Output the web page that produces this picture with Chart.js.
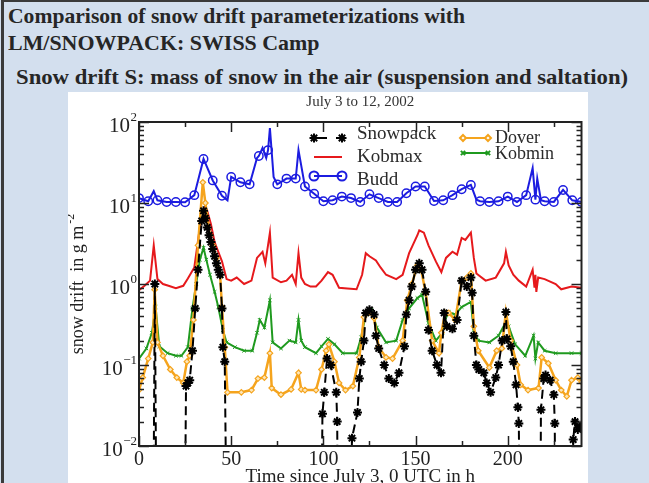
<!DOCTYPE html>
<html>
<head>
<meta charset="utf-8">
<script src="https://cdn.jsdelivr.net/npm/chart.js@4.4.1/dist/chart.umd.min.js"></script>
<style>
  html, body { margin: 0; padding: 0; }
  body { width: 649px; height: 483px; overflow: hidden; position: relative;
         background: #d3dfee; font-family: "Liberation Serif", "Times New Roman", serif; }
  #frame { position: absolute; left: 1px; top: 0; width: 700px; height: 600px;
           border-left: 3px solid #3a3a3a; border-top: 2px solid #3a3a3a; }
  .h { position: absolute; font-family: "Liberation Serif", "Times New Roman", serif; font-weight: bold;
       font-size: 22px; color: #262626; white-space: nowrap; line-height: 1; transform-origin: 0 0; }
  #panel { position: absolute; left: 68px; top: 92px; width: 520px; height: 391px; background: #fff; }
  canvas { display: block; }
</style>
</head>
<body>
<div id="frame"></div>
<div class="h" id="h1" style="left:8px; top:5px">Comparison of snow drift parameterizations with</div>
<div class="h" id="h2" style="left:8px; top:32px">LM/SNOWPACK: SWISS Camp</div>
<div class="h" id="h3" style="left:16px; top:66px">Snow drift S: mass of snow in the air (suspension and saltation)</div>
<div id="panel"><canvas id="c" width="520" height="391"></canvas></div>
<script>
// ---------- DATA ----------
const chartTitle = 'July 3 to 12, 2002';
const xAxisTitle = 'Time since July 3, 0 UTC in h';
const yAxisTitle = 'snow drift  in g m';
const yAxisTitleExp = '-2';
const xTickLabels = [0, 50, 100, 150, 200];
const yTickExponents = [-2, -1, 0, 1, 2];

const seriesNames = ['Snowpack', 'Dover', 'Kobmin', 'Kobmax', 'Budd'];

// Snowpack (values below 0.01 are "no drift": drawn off the bottom of the log axis)
const snowpackHours = [0, 7.5, 8.6, 9.7, 24.5, 25.5, 26.5, 27.5, 29, 30.5, 32, 34, 35, 36, 37, 38, 39, 40, 41, 42, 43, 44, 45, 45.5, 46.5, 48,
  98.5, 99.5, 100.5, 102, 104, 107, 107.5, 108, 114.5, 115.5, 118.5, 119.5, 120.5, 122, 123, 125, 127.5, 128.5, 130, 133, 135.5, 138.5, 141,
  144, 145, 146.5, 148, 150, 152, 153.5, 155.5, 157, 159, 161.6, 163.8, 165.5, 167, 170, 172.5, 175, 177.8, 180, 180.7, 181.6, 183, 184.3,
  187, 188.6, 190.7, 193.5, 195, 197, 199, 199.5, 201.6, 203, 204.5, 205.5, 206, 207, 217.5, 218, 219.5, 220.5, 223, 225, 225.5, 226,
  235, 235.5, 236.5, 238, 239.5, 240];
const snowpackValues = [1e-4, 1e-4, 1.0, 1e-4, 1e-4, 0.055, 0.06, 0.065, 0.15, 0.5, 1.5, 6, 8, 6.5, 5, 4, 3.3, 2.7, 2.2, 1.8, 1.5, 1.3, 0.5, 0.166, 0.11, 1e-4,
  1e-4, 0.025, 0.046, 0.12, 0.1, 0.046, 0.02, 1e-4, 1e-4, 0.0125, 0.026, 0.068, 0.11, 0.2, 0.44, 0.48, 0.42, 0.23, 0.16, 0.1, 0.068, 0.06, 0.08,
  0.17, 0.42, 0.63, 0.93, 1.5, 1.8, 1.5, 0.8, 0.27, 0.15, 0.1, 0.08, 0.44, 0.3, 0.28, 0.36, 1.1, 0.93, 1.2, 0.78, 0.23, 0.1, 0.088,
  0.08, 0.06, 0.046, 0.07, 0.1, 0.2, 0.45, 0.21, 0.17, 0.11, 0.057, 0.03, 0.019, 1e-4, 1e-4, 0.028, 0.068, 0.075, 0.065, 0.043, 0.019, 1e-4,
  1e-4, 0.012, 0.02, 0.016, 0.017, 0.018];

const doverHours = [0, 2, 5, 7.5, 8.5, 10, 13, 17, 20.5, 24, 26, 27.5, 29.5, 32, 34.6, 36, 38.5, 40, 42, 44, 45, 46.5, 48, 55.5, 61, 64.5, 68, 71, 72,
  77, 82.5, 86.5, 88, 90, 96, 99, 101.5, 103, 106, 108.5, 112, 116, 119.5, 122, 125, 127.5, 130, 134, 137.5, 143, 145.5, 148, 151, 153, 155.5,
  159, 162.7, 164, 166, 168, 171.5, 175, 177.8, 180, 181.6, 184, 190, 194, 196.8, 199, 201.6, 205, 207, 211, 216.7, 218.4, 222, 226, 229, 232,
  234.6, 238, 240];
const doverValues = [0.049, 0.07, 0.12, 0.19, 0.85, 0.19, 0.13, 0.088, 0.07, 0.06, 0.11, 0.13, 0.36, 3.0, 18, 10, 4, 3, 2.1, 1.3, 0.52, 0.166, 0.046, 0.046, 0.049, 0.068, 0.07, 0.14, 0.052,
  0.043, 0.05, 0.08, 0.05, 0.049, 0.049, 0.088, 0.15, 0.18, 0.11, 0.06, 0.049, 0.055, 0.124, 0.39, 0.45, 0.38, 0.166, 0.124, 0.12, 0.2, 0.63, 1.0, 1.7, 1.5, 0.78,
  0.2, 0.14, 0.25, 0.44, 0.44, 0.36, 1.1, 1.2, 1.35, 0.3, 0.15, 0.093, 0.15, 0.16, 0.45, 0.2, 0.1, 0.057, 0.049, 0.052, 0.124, 0.105, 0.065, 0.049, 0.041,
  0.065, 0.07, 0.062];

const kobminHours = [0, 4, 7, 9, 11, 15.5, 20, 23, 26.5, 29, 31, 33, 35, 36.5, 38.5, 41, 43, 45.5, 47.5, 52, 57, 61.5, 64, 65.5, 68, 71, 72.5, 77, 81.6,
  85, 86.5, 88, 90, 96, 99, 102.5, 106, 110.5, 118, 120.5, 123, 126, 129, 134, 139.5, 143, 146.5, 151, 153.5, 157, 161, 164.5, 166, 168, 171.5,
  175, 180, 181.5, 184, 190, 195, 199, 200.5, 204, 209.5, 214, 215, 216.5, 220, 226, 234.6, 240];
const kobminValues = [0.12, 0.16, 0.25, 0.52, 0.17, 0.14, 0.13, 0.13, 0.166, 0.5, 1.0, 2.0, 2.8, 2.0, 1.3, 0.8, 0.52, 0.27, 0.19, 0.166, 0.15, 0.15, 0.25, 0.36, 0.29, 0.63, 0.19, 0.16, 0.2,
  0.19, 0.36, 0.2, 0.166, 0.14, 0.17, 0.21, 0.18, 0.14, 0.14, 0.22, 0.42, 0.48, 0.29, 0.19, 0.2, 0.36, 0.5, 0.67, 0.74, 0.33, 0.2, 0.25, 0.36, 0.45, 0.42,
  0.52, 0.6, 0.27, 0.2, 0.19, 0.23, 0.34, 0.3, 0.18, 0.13, 0.23, 0.12, 0.19, 0.15, 0.14, 0.14, 0.14];

const kobmaxHours = [0, 3, 6, 8, 10, 13, 16, 20, 24, 26.5, 30, 33, 35, 36, 37, 39, 41, 43, 45, 47.5, 50, 53, 57, 61, 64, 67, 68.5, 71, 72.5, 77, 80, 83,
  85, 86.5, 88, 90, 93, 96, 99, 102.5, 105, 108.5, 113, 118, 121, 123, 125, 128.5, 131, 134, 139.5, 143, 146.5, 149, 151, 152, 154.5, 157, 161,
  164, 166.5, 170, 172.5, 175, 177, 180, 181.6, 183, 188, 193.5, 198, 199, 200.5, 203, 206, 210, 213.5, 214.5, 215, 215.5, 216.5, 220, 226, 229,
  234.6, 240];
const kobmaxValues = [0.84, 0.95, 1.1, 3.0, 1.15, 1.0, 0.95, 0.89, 0.95, 1.17, 1.6, 5.0, 7.5, 9, 8, 5.5, 3.3, 2.5, 1.9, 1.15, 1.1, 1.2, 1.0, 1.1, 2.1, 2.5, 1.8, 4.3, 1.2, 1.05, 1.1, 1.3,
  1.0, 2.4, 1.2, 1.0, 0.93, 0.93, 1.1, 1.4, 1.3, 0.9, 0.88, 0.86, 1.3, 2.4, 2.2, 1.95, 1.6, 1.3, 1.15, 1.3, 2.4, 3.2, 4.0, 4.6, 4.3, 3.0, 1.9,
  1.4, 2.1, 2.5, 2.3, 3.7, 3.5, 4.3, 2.1, 1.35, 1.1, 1.2, 1.8, 2.5, 1.7, 1.3, 1.1, 0.93, 1.5, 0.9, 1.3, 0.8, 1.2, 1.15, 1.0, 0.86,
  0.93, 0.9];

const buddHours = [0, 5, 8, 10, 15, 20, 25, 30, 35, 40, 45, 48, 50, 55, 60, 64, 65, 67, 69, 70, 71, 73, 75, 80, 85, 86.5, 90, 95, 100, 105, 110, 115,
  120, 125, 130, 135, 140, 145, 150, 155, 160, 165, 170, 175, 180, 183, 185, 190, 195, 200, 205, 210, 213.5, 215, 216, 218, 220, 225, 230, 235, 240];
const buddValues = [11.5, 10.5, 14, 10.8, 10.3, 10.3, 10.2, 12.5, 35, 19, 12.3, 10.8, 21, 18, 17, 36, 38, 48, 36, 45, 84, 21, 17, 20, 20, 45, 16, 13, 10.5, 10.8, 12, 11.5,
  10.3, 12.8, 11.5, 10.3, 10.3, 13.2, 16, 16, 10.6, 10.8, 12.5, 14.8, 16.7, 11, 10.5, 10.3, 10.5, 12, 10.3, 12.5, 27, 11, 20, 10.8, 10.5, 10.3, 14.5, 10.8, 10.3];

// ---------- build chart ----------
const pts = (hs, vs) => hs.map((h, i) => ({ x: h, y: vs[i] }));
const SERIF = "'Liberation Serif', 'Times New Roman', serif";

const datasets = [
  { label: seriesNames[0], data: pts(snowpackHours, snowpackValues), borderColor: '#000', borderWidth: 2, borderDash: [9, 5],
    pointStyle: 'star', pointRadius: 4.5, pointBorderWidth: 2, pointBorderColor: '#000', pointBackgroundColor: '#000' },
  { label: seriesNames[1], data: pts(doverHours, doverValues), borderColor: '#f5a41d', borderWidth: 2.5,
    pointStyle: 'rectRot', pointRadius: 2.8, pointBorderWidth: 1.2, pointBorderColor: '#f5a41d', pointBackgroundColor: '#fde6b8' },
  { label: seriesNames[2], data: pts(kobminHours, kobminValues), borderColor: '#1f9a1f', borderWidth: 2,
    pointStyle: 'crossRot', pointRadius: 2.5, pointBorderWidth: 1, pointBorderColor: '#1f9a1f' },
  { label: seriesNames[3], data: pts(kobmaxHours, kobmaxValues), borderColor: '#e6191c', borderWidth: 2, pointRadius: 0 },
  { label: seriesNames[4], data: pts(buddHours, buddValues), borderColor: '#1c1ce0', borderWidth: 2,
    pointStyle: 'circle', pointBorderWidth: 1.5, pointBorderColor: '#1c1ce0', pointBackgroundColor: 'rgba(255,255,255,0)',
    pointRadius: c => (c.raw && c.raw.x % 5 === 0 ? 4.2 : 0) }
];

function seg(ctx, x1, y1, x2, y2) { ctx.beginPath(); ctx.moveTo(x1, y1); ctx.lineTo(x2, y2); ctx.stroke(); }

const decoPlugin = {
  id: 'deco',
  afterDatasetsDraw(chart) {
    const { ctx, chartArea: a, scales: { x, y } } = chart;
    ctx.save();
    ctx.strokeStyle = '#222';
    ctx.lineWidth = 2;
    ctx.strokeRect(a.left, a.top, a.right - a.left, a.bottom - a.top);
    ctx.lineWidth = 1.5;
    for (let t = x.min; t <= x.max; t += 25) {
      const px = Math.round(x.getPixelForValue(t)) + 0.5;
      const len = t % 50 === 0 ? 10 : 5;
      seg(ctx, px, a.bottom, px, a.bottom - len);
      seg(ctx, px, a.top, px, a.top + len);
    }
    for (const e of yTickExponents) {
      for (let m = 1; m <= 9; m++) {
        const v = m * Math.pow(10, e);
        if (v > y.max) break;
        const py = Math.round(y.getPixelForValue(v)) + 0.5;
        const len = m === 1 ? 10 : 5;
        seg(ctx, a.left, py, a.left + len, py);
        seg(ctx, a.right, py, a.right - len, py);
      }
    }
    ctx.fillStyle = '#222';
    ctx.font = '20px ' + SERIF;
    ctx.textAlign = 'center'; ctx.textBaseline = 'alphabetic';
    for (const t of xTickLabels) ctx.fillText(String(t), x.getPixelForValue(t), a.bottom + 19);
    for (const e of yTickExponents) {
      const py = y.getPixelForValue(Math.pow(10, e));
      const rx = a.left - 2;
      ctx.font = '13px ' + SERIF; ctx.textAlign = 'right';
      const es = String(e).replace('-', '\u2212');
      ctx.fillText(es, rx, py - 1);
      const w = ctx.measureText(es).width;
      ctx.font = '21px ' + SERIF;
      ctx.fillText('10', rx - w - 0.5, py + 10);
    }
    ctx.fillStyle = '#333';
    ctx.font = '15px ' + SERIF; ctx.textAlign = 'center';
    ctx.fillText(chartTitle, (a.left + a.right) / 2, 14);
    ctx.fillStyle = '#222';
    ctx.font = '19px ' + SERIF;
    ctx.fillText(xAxisTitle, (a.left + a.right) / 2, a.bottom + 36);
    // y axis title (rotated)
    ctx.save();
    ctx.translate(15, (a.top + a.bottom) / 2);
    ctx.rotate(-Math.PI / 2);
    ctx.font = '18px ' + SERIF;
    const w1 = ctx.measureText(yAxisTitle).width;
    ctx.font = '12px ' + SERIF;
    const w2 = ctx.measureText(yAxisTitleExp).width;
    const x0 = -(w1 + w2 + 2) / 2;
    ctx.textAlign = 'left';
    ctx.font = '18px ' + SERIF;
    ctx.fillText(yAxisTitle, x0, 0);
    ctx.font = '12px ' + SERIF;
    ctx.fillText(yAxisTitleExp, x0 + w1 + 2, -9);
    ctx.restore();

    // legend
    const ds = chart.data.datasets;
    const drawSample = (d, x1, x2, yy) => {
      ctx.save();
      ctx.strokeStyle = d.borderColor; ctx.lineWidth = 2;
      ctx.setLineDash(d.borderDash ? [13, 9] : []);
      seg(ctx, x1, yy, x2, yy);
      ctx.setLineDash([]);
      if (d.pointStyle && d.label !== 'Kobmax') {
        ctx.strokeStyle = d.pointBorderColor || d.borderColor;
        ctx.fillStyle = typeof d.pointBackgroundColor === 'string' ? d.pointBackgroundColor : '#fff';
        if (d.label === 'Dover') ctx.fillStyle = '#fff';
        const r = (d.label === 'Budd' || d.label === 'Snowpack') ? 4.5 : 3;
        const opt = { pointStyle: d.pointStyle, radius: r, borderWidth: d.pointBorderWidth || 1.5, rotation: 0 };
        Chart.helpers.drawPoint(ctx, opt, x1, yy);
        Chart.helpers.drawPoint(ctx, opt, x2, yy);
      }
      ctx.restore();
    };
    const left = [[0, 46, 42], [3, 65, 65], [4, 84, 88]];
    ctx.textAlign = 'left'; ctx.textBaseline = 'middle';
    for (const [i, my, ty] of left) {
      drawSample(ds[i], 246, 274, my);
      ctx.font = '19px ' + SERIF; ctx.fillStyle = '#2a2a2a';
      ctx.fillText(ds[i].label, 289, ty);
    }
    const right = [[1, 46, 46], [2, 61, 62]];
    for (const [i, my, ty] of right) {
      drawSample(ds[i], 395, 420, my);
      ctx.font = '18px ' + SERIF; ctx.fillStyle = '#2a2a2a';
      ctx.fillText(ds[i].label, 427, ty);
    }
    ctx.restore();
  }
};

new Chart(document.getElementById('c'), {
  type: 'line',
  data: { datasets },
  options: {
    responsive: false,
    animation: false,
    devicePixelRatio: 1,
    layout: { padding: { left: 71, right: 5, top: 30, bottom: 37 } },
    scales: {
      x: { type: 'linear', min: 0, max: 240, display: false },
      y: { type: 'logarithmic', min: 0.01, max: 100, display: false }
    },
    elements: { line: { tension: 0 } },
    plugins: { legend: { display: false }, tooltip: { enabled: false } }
  },
  plugins: [decoPlugin]
});

const targets = { h1: 457, h2: 312, h3: 612 };
for (const id in targets) {
  const el = document.getElementById(id);
  el.style.transform = 'scaleX(' + (targets[id] / el.scrollWidth) + ')';
}
</script>
</body>
</html>
